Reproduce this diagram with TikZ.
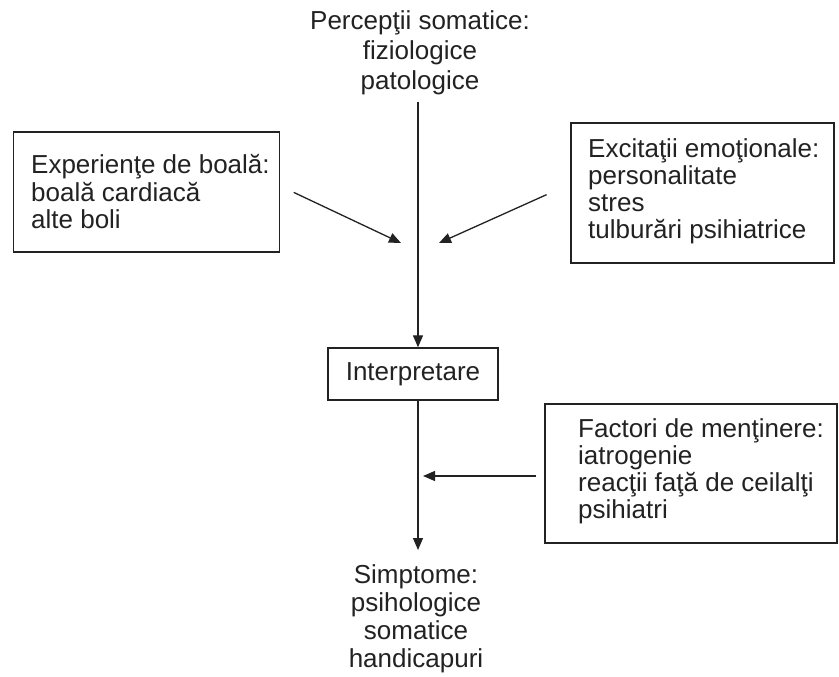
\documentclass[tikz,border=0pt]{standalone}
\usepackage{fontspec}
\setmainfont{Liberation Sans}
\usetikzlibrary{arrows.meta}
\definecolor{ink}{HTML}{222222}
\begin{document}
\begin{tikzpicture}[x=1pt,y=-1pt,
  label text/.style={inner sep=0pt, text=ink, font=\fontsize{26}{27}\selectfont, align=left},
  centre text/.style={inner sep=0pt, text=ink, font=\fontsize{26}{28}\selectfont, align=center},
  frame/.style={draw=ink, line width=1.4pt, inner sep=0pt},
  link/.style={draw=ink, line width=1.3pt, -{Triangle[length=12pt,width=10pt]}},
]
\fill[white] (0,0) rectangle (839,677);
\useasboundingbox (0,0) rectangle (839,677);

% vertical axis of the main flow
\coordinate (ax) at (418,0);

% top label
\node[centre text, anchor=north, font=\fontsize{26}{30}\selectfont] (percep) at (420,8)
  {\strut Percepţii somatice:\\fiziologice\\patologice};

% left input box
\node[frame, minimum width=266pt, minimum height=120pt] (exp) at (146.5,192) {};
\node[label text, anchor=north west] (exptext) at (31,154)
  {\strut Experienţe de boală:\\boală cardiacă\\alte boli};

% right input box
\node[frame, minimum width=263pt, minimum height=140pt] (exc) at (702.5,193) {};
\node[label text, anchor=north west] (exctext) at (588,138)
  {\strut Excitaţii emoţionale:\\personalitate\\stres\\tulburări psihiatrice};

% central step
\node[frame, minimum width=170pt, minimum height=52pt, text=ink,
      font=\fontsize{26}{27}\selectfont] (interp) at (413,374) {Interpretare};

% maintaining factors
\node[frame, minimum width=292pt, minimum height=139pt] (fac) at (691,473.5) {};
\node[label text, anchor=north west] (factext) at (578,418)
  {\strut Factori de menţinere:\\iatrogenie\\reacţii faţă de ceilalţi\\psihiatri};

% outcome
\node[centre text, anchor=north] (simpt) at (416,564)
  {\strut Simptome:\\psihologice\\somatice\\handicapuri};

% arrow end points on the axis
\coordinate (tipL) at (401,243);
\coordinate (tipR) at (439,243);
\coordinate (tipM) at (423,476);

\draw[link, shorten <=7pt] (percep.south -| ax) -- (interp.north -| ax);
\draw[link, shorten >=14pt] (interp.south -| ax) -- (simpt.north -| ax);
\draw[link, shorten <=15pt] ([yshift=6pt]exp.east) -- (tipL);
\draw[link, shorten <=26pt] ([yshift=9pt]exc.west) -- (tipR);
\draw[link, shorten <=8pt] ([yshift=-2.5pt]fac.west) -- (tipM);
\end{tikzpicture}
\end{document}
